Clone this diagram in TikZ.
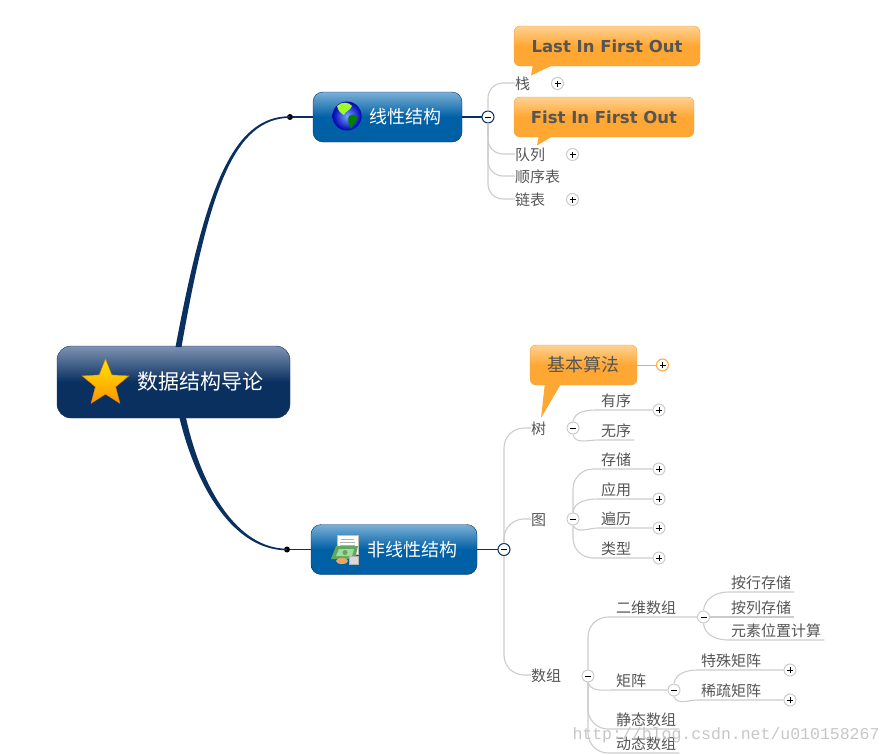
\documentclass[tikz,border=0pt]{standalone}
\usepackage{fontspec}
\setmainfont{Noto Sans CJK SC}
\newfontfamily\calloutfont{DejaVu Sans}
\newfontfamily\markfont{Liberation Mono}
\usetikzlibrary{calc, shapes.geometric}
\definecolor{navy}{HTML}{0A3060}
\definecolor{lineblue}{HTML}{0060A5}
\definecolor{paleblue}{HTML}{7BB0D6}
\definecolor{palenavy}{HTML}{7F93B3}
\definecolor{callout}{HTML}{FFA733}
\definecolor{calloutpale}{HTML}{FFD193}
\definecolor{calloutedge}{HTML}{EDA445}
\definecolor{twig}{HTML}{CCCCCC}
\definecolor{ink}{HTML}{555555}
\definecolor{billgreen}{HTML}{5FA85F}
\definecolor{billpale}{HTML}{A8D8A0}

\begin{document}
\begin{tikzpicture}[x=1pt, y=-1pt,
    rootbox/.style={draw=navy, rounded corners=14pt, inner sep=0pt, minimum width=233pt, minimum height=72pt,
      top color=palenavy, bottom color=navy, middle color=navy},
    mainbox/.style={draw=navy, rounded corners=10pt, inner sep=0pt, minimum height=50pt,
      top color=paleblue, bottom color=lineblue, middle color=lineblue},
    notebox/.style={draw=calloutedge, rounded corners=6pt, inner sep=0pt, minimum height=40pt,
      top color=calloutpale, bottom color=callout, middle color=callout, text=ink},
    notebold/.style={font=\calloutfont\bfseries\fontsize{16.5}{16.5}\selectfont},
    boxtext/.style={text=white, inner sep=0pt},
    topic/.style={anchor=west, inner sep=0pt, text=ink, text height=13.4pt, text depth=0pt, font=\fontsize{15}{15}\selectfont},
    leaf/.style={anchor=south west, inner xsep=3pt, inner ysep=0pt, minimum height=18pt, text=ink, font=\fontsize{15}{15}\selectfont},
    button/.style={circle, draw=#1, line width=1pt, fill=white, inner sep=0pt, minimum size=12pt},
    minusbtn/.style={button=#1, path picture={
      \draw[black, line width=1pt] ([xshift=-3pt]path picture bounding box.center) -- ([xshift=3pt]path picture bounding box.center);}},
    minusbtn/.default=twig,
    plusbtn/.style={button=#1, path picture={
      \draw[black, line width=1pt] ([xshift=-3pt]path picture bounding box.center) -- ([xshift=3pt]path picture bounding box.center)
        ([yshift=-3pt]path picture bounding box.center) -- ([yshift=3pt]path picture bounding box.center);}},
    plusbtn/.default=twig,
    knot/.style={circle, fill=black, inner sep=0pt, minimum size=6pt},
    twigline/.style={draw=twig, line width=1.1pt},
    mainline/.style={draw=navy, line width=1.2pt}]
  \useasboundingbox (0,0) rectangle (892,755);

  % trunk
  \node[rootbox] (root) at (173.5,382) {};
  \node[mainbox, minimum width=149pt] (linear) at (387.5,117) {};
  \node[mainbox, minimum width=166pt] (nonlinear) at (394,549.5) {};
  \node[knot] (knotA) at (290,117) {};
  \node[knot] (knotB) at (287,549.5) {};
  \coordinate (rootA) at (175.5,347);
  \coordinate (rootB) at (181.5,347);
  \coordinate (rootC) at (179.5,418);
  \coordinate (rootD) at (186,418);
  \fill[navy] (rootA) .. controls (205,190) and (232,116.2) .. ([yshift=.8pt]knotA.center)
    -- ([yshift=-.8pt]knotA.center) .. controls (234,118.5) and (209,190) .. (rootB) -- cycle;
  \fill[navy] (rootC) .. controls (197,490) and (235,550.5) .. ([yshift=-.8pt]knotB.center)
    -- ([yshift=.8pt]knotB.center) .. controls (238,548.5) and (202,490) .. (rootD) -- cycle;
  \draw[mainline] (knotA) -- (linear.west);
  \draw[mainline] (knotB) -- (nonlinear.west);

  \node[boxtext, font=\fontsize{21}{21}\selectfont] (roottext) at (200,382) {数据结构导论};
  \node[boxtext, font=\fontsize{18}{18}\selectfont] (lineartext) at (405,117) {线性结构};
  \node[boxtext, font=\fontsize{18}{18}\selectfont] (nonlineartext) at (412,550) {非线性结构};

  % icons
  \node[star, star points=5, star point ratio=2.3, minimum size=49pt, inner sep=0pt, draw=orange!70!brown,
    top color=yellow!80!orange, bottom color=orange!85!yellow] (staricon) at (105.5,383.5) {};
  \node[circle, minimum size=29pt, inner sep=0pt, inner color=cyan!35!blue!55!white, outer color=blue!70!black] (globe) at (347,116) {};
  \fill[green!45!yellow!85!white] (337,106) .. controls (342,101) and (349,102) .. (352,106)
    .. controls (350,111) and (345,111) .. (344,115) .. controls (340,113) and (338,110) .. (337,106) -- cycle;
  \fill[green!50!black] (349,116) .. controls (353,113) and (358,116) .. (358,118)
    .. controls (356,122) and (352,126) .. (351,129) .. controls (349,124) and (347,120) .. (349,116) -- cycle;
  \fill[white, draw=gray!50] (337,535) rectangle (358,554);
  \draw[gray!60, line width=.6pt] (341,539) -- (354,539) (340,542) -- (355,542) (340,545) -- (355,545);
  \fill[billgreen] (336,546) -- (358,546) -- (355,559) -- (331,559) -- cycle;
  \fill[billpale] (339,549) -- (354,549) -- (352,556) -- (336,556) -- cycle;
  \fill[billgreen] (345,552.5) circle (2.5);
  \fill[gray!30, draw=gray!60] (349,556) rectangle (358,564);
  \fill[orange!50!brown!70!white] (342,561) ellipse (6 and 3);

  % upper branch
  \node[minusbtn=navy] (linearbtn) at (488,117) {};
  \draw[mainline] (linear.east) -- (linearbtn.west);
  \node[topic] (stack) at (515,83) {栈};
  \node[topic] (queue) at (515,154) {队列};
  \node[topic] (seqlist) at (515,176) {顺序表};
  \node[topic] (linklist) at (515,199) {链表};
  \node[plusbtn] (stackbtn) at (557.5,83.5) {};
  \node[plusbtn] (queuebtn) at (572.5,154.5) {};
  \node[plusbtn] (linkbtn) at (572.5,199.5) {};
  \draw[twigline, rounded corners=15pt] (linearbtn.north) |- (stack.west);
  \draw[twigline, rounded corners=15pt] (linearbtn.south) |- (queue.west);
  \draw[twigline, rounded corners=15pt] (linearbtn.south) |- (seqlist.west);
  \draw[twigline, rounded corners=15pt] (linearbtn.south) |- (linklist.west);

  \node[notebox, notebold, minimum width=186pt] (lifo) at (607,46) {Last In First Out\hspace{3pt}};
  \node[notebox, notebold, minimum width=180pt] (fifo) at (604,117) {Fist In First Out};
  \coordinate (lifotip) at (531,75.5);
  \coordinate (fifotip) at (537,145.5);
  \fill[callout] ([xshift=19pt,yshift=1pt]lifo.south west) -- ([xshift=39pt,yshift=1pt]lifo.south west) -- (lifotip) -- cycle;
  \fill[callout] ([xshift=25pt,yshift=1pt]fifo.south west) -- ([xshift=39pt,yshift=1pt]fifo.south west) -- (fifotip) -- cycle;

  % lower branch
  \node[minusbtn=navy] (nonlinearbtn) at (504,549.5) {};
  \draw[mainline] (nonlinear.east) -- (nonlinearbtn.west);
  \node[topic] (tree) at (531,428) {树};
  \node[topic] (graph) at (531,519) {图};
  \node[topic] (array) at (531,675) {数组};
  \draw[twigline, rounded corners=20pt] (nonlinearbtn.north) |- (tree.west);
  \draw[twigline, rounded corners=20pt] (nonlinearbtn.north) |- (graph.west);
  \draw[twigline, rounded corners=20pt] (nonlinearbtn.south) |- (array.west);

  \node[notebox, minimum width=107pt, font=\fontsize{18}{18}\selectfont] (algo) at (583.5,365) {基本算法};
  \coordinate (algotip) at (541,418);
  \fill[callout] ([xshift=15pt,yshift=1pt]algo.south west) -- ([xshift=31pt,yshift=1pt]algo.south west) -- (algotip) -- cycle;
  \node[plusbtn=callout] (algobtn) at (662.5,365) {};
  \draw[draw=callout, line width=1pt] (algo.east) -- (algobtn.west);

  % tree
  \node[minusbtn] (treebtn) at (573,428) {};
  \node[leaf] (ordered) at (598,410) {有序};
  \node[leaf] (unordered) at (598,440) {无序};
  \node[plusbtn] (orderedbtn) at (659,410) {};
  \draw[twigline] (treebtn.north) to[out=80, in=180] (ordered.south west) -- (orderedbtn.west);
  \draw[twigline] (treebtn.south) to[out=-80, in=180] (unordered.south west) -- (unordered.south east);

  % graph
  \node[minusbtn] (graphbtn) at (573,519) {};
  \node[leaf] (storage) at (598,469) {存储};
  \node[leaf] (usage) at (598,499) {应用};
  \node[leaf] (traverse) at (598,528) {遍历};
  \node[leaf] (kind) at (598,558) {类型};
  \node[plusbtn] (storagebtn) at (659,469) {};
  \node[plusbtn] (usagebtn) at (659,499) {};
  \node[plusbtn] (traversebtn) at (659,528) {};
  \node[plusbtn] (kindbtn) at (659,558) {};
  \draw[twigline, rounded corners=20pt] (graphbtn.north) |- (storagebtn.west);
  \draw[twigline] (graphbtn.north) to[out=85, in=180] (usage.south west) -- (usagebtn.west);
  \draw[twigline] (graphbtn.south) to[out=-60, in=180] (traverse.south west) -- (traversebtn.west);
  \draw[twigline, rounded corners=20pt] (graphbtn.south) |- (kindbtn.west);

  % array
  \node[minusbtn] (arraybtn) at (588,676) {};
  \node[leaf] (twodim) at (613,617) {二维数组};
  \node[leaf] (matrix) at (613,690) {矩阵};
  \node[leaf] (static) at (613,729) {静态数组};
  \node[leaf] (dynamic) at (613,753) {动态数组};
  \node[minusbtn] (twodimbtn) at (703.5,617) {};
  \node[minusbtn] (matrixbtn) at (674,690) {};
  \draw[twigline, rounded corners=20pt] (arraybtn.north) |- (twodimbtn.west);
  \draw[twigline] (arraybtn.south) to[out=-70, in=180] (matrix.south west) -- (matrixbtn.west);
  \draw[twigline, rounded corners=20pt] (arraybtn.south) |- (static.south east);
  \draw[twigline, rounded corners=20pt] (arraybtn.south) |- (dynamic.south east);

  \node[leaf] (byrow) at (728,592) {按行存储};
  \node[leaf] (bycol) at (728,617) {按列存储};
  \node[leaf] (address) at (728,640) {元素位置计算};
  \draw[twigline] (twodimbtn.north) to[out=85, in=180] (byrow.south west) -- (byrow.south east);
  \draw[twigline] (twodimbtn.east) -- (bycol.south west) -- (bycol.south east);
  \draw[twigline] (twodimbtn.south) to[out=-85, in=180] (address.south west) -- (address.south east);

  \node[leaf] (special) at (698,670) {特殊矩阵};
  \node[leaf] (sparse) at (698,700) {稀疏矩阵};
  \node[plusbtn] (specialbtn) at (790,670) {};
  \node[plusbtn] (sparsebtn) at (790,700) {};
  \draw[twigline] (matrixbtn.north) to[out=80, in=180] (special.south west) -- (specialbtn.west);
  \draw[twigline] (matrixbtn.south) to[out=-70, in=180] (sparse.south west) -- (sparsebtn.west);

  % web address
  \node[text=gray!45, inner sep=0pt, font=\markfont\fontsize{16.5}{16.5}\selectfont] (webmark) at (726,735) {http://blog.csdn.net/u010158267};
\end{tikzpicture}
\end{document}
